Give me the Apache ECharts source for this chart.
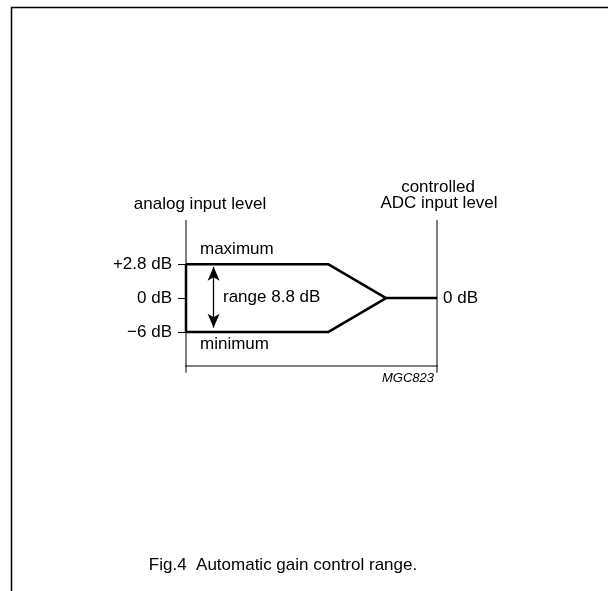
<!DOCTYPE html>
<html>
<head>
<meta charset="utf-8">
<script src="https://cdn.jsdelivr.net/npm/echarts@6/dist/echarts.min.js"></script>
<style>
html,body{margin:0;padding:0;background:#fff;}
#c{width:608px;height:591px;}
</style>
</head>
<body>
<div id="c"></div>
<script>
// schematic level positions (y units) and their tick labels
var inputLevelPos = [1, 0, -1];
var inputLevelLabels = ['+2.8 dB', '0 dB', '\u22126 dB'];
var outputLevelPos = [0];
var outputLevelLabels = ['0 dB'];
// x positions (schematic units): input axis, end of flat, convergence, output axis
var xInput = 0, xFlatEnd = 5.66, xConverge = 7.97, xOutput = 10;
// paths
var maxPath = [[xInput, 1], [xFlatEnd, 1], [xConverge, 0]];
var minPath = [[xInput, -1], [xFlatEnd, -1], [xConverge, 0]];
var outPath = [[xConverge, 0], [xOutput, 0]];
var boxLeft = [[xInput, 1], [xInput, -1]];
var rangeArrow = [[1.1, 0.92], [1.1, -0.87]];
var leftAxisPath = [[xInput, 2.3], [xInput, -2.2]];
var rightAxisPath = [[xOutput, 2.3], [xOutput, -2.2]];
var baseAxisPath = [[-0.27, -2], [10.35, -2]];

var font = '"Liberation Sans", Arial, sans-serif';
var chart = echarts.init(document.getElementById('c'));

function line(data, w, extra) {
  var s = {
    type: 'line', data: data, symbol: 'none', clip: false, silent: true,
    lineStyle: { color: '#000', width: w }, animation: false
  };
  if (extra) for (var k in extra) s[k] = extra[k];
  return s;
}

chart.setOption({
  animation: false,
  backgroundColor: '#fff',
  grid: { left: 186, right: 171, top: 220, height: 146 },
  xAxis: { type: 'value', min: 0, max: 10, show: false },
  yAxis: [{
    type: 'value', min: -2, max: 2.3, position: 'left',
    splitLine: { show: false }, axisLine: { show: false },
    axisTick: { show: true, length: 8, customValues: inputLevelPos, lineStyle: { color: '#000', width: 1 } },
    axisLabel: {
      customValues: inputLevelPos, margin: 14, color: '#000', fontSize: 17, fontFamily: font,
      formatter: function (v) { var i = inputLevelPos.indexOf(v); return i >= 0 ? inputLevelLabels[i] : ''; }
    }
  }, {
    type: 'value', min: -2, max: 2.3, position: 'right',
    splitLine: { show: false }, axisLine: { show: false },
    axisTick: { show: false },
    axisLabel: {
      customValues: outputLevelPos, margin: 6, color: '#000', fontSize: 17, fontFamily: font,
      formatter: function (v) { var i = outputLevelPos.indexOf(v); return i >= 0 ? outputLevelLabels[i] : ''; }
    }
  }],
  series: [
    line(leftAxisPath, 1),
    line(rightAxisPath, 1),
    line(baseAxisPath, 1),
    line(boxLeft, 2.5),
    line(maxPath, 2.5),
    line(minPath, 2.5),
    line(outPath, 2.5),
    {
      type: 'line', data: [], symbol: 'none', silent: true,
      markLine: {
        silent: true, symbol: ['arrow', 'arrow'], symbolSize: [9, 14],
        label: { show: false },
        lineStyle: { color: '#000', width: 1.3, type: 'solid' },
        data: [[{ coord: rangeArrow[0] }, { coord: rangeArrow[1] }]]
      }
    }
  ],
  graphic: [
    { type: 'polyline', shape: { points: [[11.5, 591], [11.5, 7.5], [608, 7.5]] }, style: { stroke: '#000', lineWidth: 1.5, fill: null }, silent: true },
    { type: 'text', x: 200, y: 204, style: { text: 'analog input level', font: '17px ' + font, fill: '#000', align: 'center', verticalAlign: 'middle' } },
    { type: 'text', x: 200, y: 249, style: { text: 'maximum', font: '17px ' + font, fill: '#000', verticalAlign: 'middle' } },
    { type: 'text', x: 200, y: 344, style: { text: 'minimum', font: '17px ' + font, fill: '#000', verticalAlign: 'middle' } },
    { type: 'text', x: 223, y: 297, style: { text: 'range 8.8 dB', font: '17px ' + font, fill: '#000', verticalAlign: 'middle' } },
    { type: 'text', x: 438, y: 187, style: { text: 'controlled', font: '17px ' + font, fill: '#000', align: 'center', verticalAlign: 'middle' } },
    { type: 'text', x: 439, y: 203, style: { text: 'ADC input level', font: '17px ' + font, fill: '#000', align: 'center', verticalAlign: 'middle' } },
    { type: 'text', x: 434, y: 378, style: { text: 'MGC823', font: 'italic 13px ' + font, fill: '#000', align: 'right', verticalAlign: 'middle' } },
    { type: 'text', x: 283, y: 565, style: { text: 'Fig.4  Automatic gain control range.', font: '17px ' + font, fill: '#000', align: 'center', verticalAlign: 'middle' } }
  ]
});
</script>
</body>
</html>
